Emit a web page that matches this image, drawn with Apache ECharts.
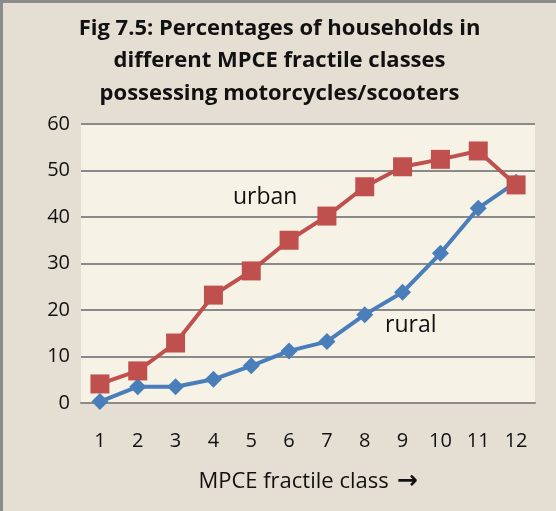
<!DOCTYPE html>
<html>
<head>
<meta charset="utf-8">
<script src="https://cdn.jsdelivr.net/npm/echarts@6/dist/echarts.min.js"></script>
<style>
  html, body { margin: 0; padding: 0; background: #e5ded3; }
  #chart { width: 556px; height: 511px; box-sizing: border-box;
           border-left: 3px solid #8c8c8c; border-top: 3px solid #8c8c8c; }
</style>
</head>
<body>
<div id="chart"></div>
<script>
// MPCE fractile classes
var classes = ['1', '2', '3', '4', '5', '6', '7', '8', '9', '10', '11', '12'];
// percentages
var urban = [4.1, 6.9, 12.9, 23.2, 28.4, 35.0, 40.2, 46.5, 50.8, 52.4, 54.2, 46.9];
var rural = [0.3, 3.5, 3.5, 5.1, 8.0, 11.2, 13.2, 19.0, 23.8, 32.2, 41.9, 47.5];
var yTicks = [0, 10, 20, 30, 40, 50, 60];

var chart = echarts.init(document.getElementById('chart'));

var option = {
    backgroundColor: 'transparent',
    animation: false,
    title: {
        text: 'Fig 7.5: Percentages of households in\ndifferent MPCE fractile classes\npossessing motorcycles/scooters',
        left: 'center',
        top: 4,
        textStyle: {
            fontFamily: 'Open Sans',
            fontSize: 22,
            fontWeight: 'bold',
            lineHeight: 32.5,
            color: '#111'
        }
    },
    grid: {
        left: 78,
        right: 21,
        top: 121,
        bottom: 108,
        show: true,
        backgroundColor: '#f6f3e6',
        borderWidth: 0
    },
    xAxis: {
        type: 'category',
        data: classes,
        boundaryGap: true,
        name: '{t|MPCE fractile class}{s|}{a|\u2192}',
        nameLocation: 'middle',
        nameGap: 66,
        nameTextStyle: {
            rich: {
                t: { fontFamily: 'Open Sans', fontSize: 22, color: '#111' },
                s: { width: 8 },
                a: { fontFamily: 'DejaVu Sans', fontWeight: 'bold', fontSize: 25, color: '#111' }
            }
        },
        axisLine: { lineStyle: { color: '#8a8a8a', width: 2 } },
        axisTick: { show: false },
        axisLabel: { margin: 28, fontFamily: 'Open Sans', fontSize: 20, color: '#111' },
        splitLine: { show: false }
    },
    yAxis: {
        type: 'value',
        min: yTicks[0],
        max: yTicks[yTicks.length - 1],
        interval: 10,
        axisLine: { show: false },
        axisTick: { show: false },
        axisLabel: { margin: 11, fontFamily: 'Open Sans', fontSize: 20, color: '#111' },
        splitLine: { lineStyle: { color: '#8a8a8a', width: 2 } }
    },
    series: [
        {
            name: 'rural',
            type: 'line',
            data: rural,
            symbol: 'diamond',
            symbolSize: 17,
            lineStyle: { color: '#4a7ebb', width: 4 },
            itemStyle: { color: '#4a7ebb' },
            z: 2
        },
        {
            name: 'urban',
            type: 'line',
            data: urban,
            symbol: 'rect',
            symbolSize: 19,
            lineStyle: { color: '#c0504d', width: 4 },
            itemStyle: { color: '#c0504d' },
            z: 3
        }
    ],
    graphic: [
        { type: 'text', left: 230, top: 183,
          style: { text: 'urban', font: '23px "Open Sans"', fill: '#111' } },
        { type: 'text', left: 382, top: 311,
          style: { text: 'rural', font: '23px "Open Sans"', fill: '#111' } }
    ]
};

chart.setOption(option);
</script>
</body>
</html>
